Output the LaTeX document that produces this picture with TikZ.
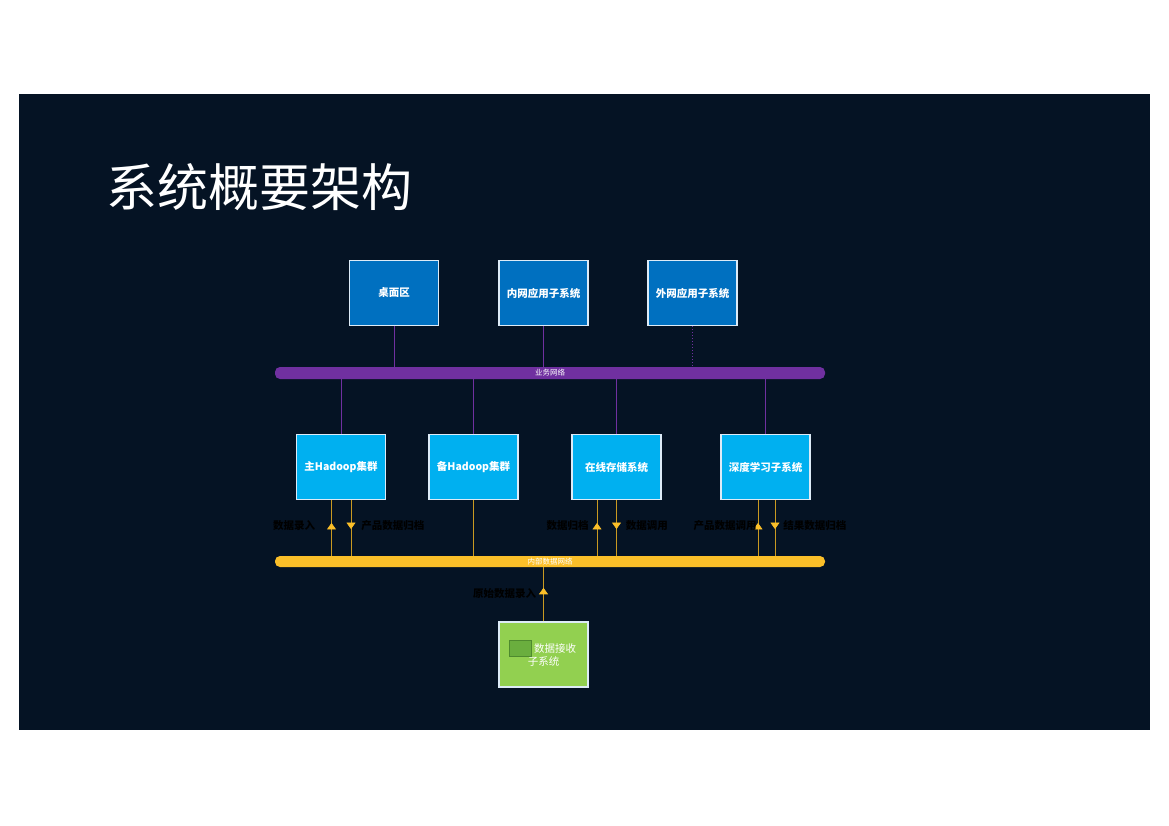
\documentclass[tikz,border=0pt]{standalone}
\usepackage{fontspec}
\setmainfont{Noto Sans CJK SC}
\usetikzlibrary{arrows.meta,decorations.markings,positioning}

\definecolor{night}{HTML}{051324}
\definecolor{topblue}{HTML}{0070C0}
\definecolor{midblue}{HTML}{00B0F0}
\definecolor{edgeblue}{HTML}{DDEBF7}
\definecolor{busviolet}{HTML}{7030A0}
\definecolor{busamber}{HTML}{FBBF29}
\definecolor{rxgreen}{HTML}{92D050}
\definecolor{icongreen}{HTML}{6AAE3E}
\definecolor{icondark}{HTML}{4E8A2E}

\begin{document}
\begin{tikzpicture}[x=1pt,y=-1pt,>={Triangle[width=9pt,length=6.5pt]}]
      \tikzset{
	  sysbox/.style={draw=edgeblue, line width=1.2pt, minimum width=89pt, minimum height=65pt, inner sep=1pt, text=white, font=\bfseries\fontsize{10.5}{12}\selectfont},
	  topbox/.style={sysbox, fill=topblue},
	  midbox/.style={sysbox, fill=midblue},
	  bus/.style={rounded corners=5pt, minimum width=550pt, inner sep=0pt, text=white, font=\fontsize{7.5}{8}\selectfont},
	  bizlink/.style={draw=busviolet, line width=1pt},
	  datalink/.style={draw=busamber!80!black, line width=0.7pt},
	  uplink/.style={datalink, postaction={decorate}, decoration={markings, mark=at position #1 with {\arrow[busamber]{>}}}},
	  uplink/.default=0.59,
	  downlink/.style={datalink, postaction={decorate}, decoration={markings, mark=at position 0.52 with {\arrow[busamber]{>}}}},
	  flowlabel/.style={text=black, inner sep=0pt, font=\bfseries\fontsize{10.5}{12}\selectfont}
      }

      %-----page and dark panel
      \useasboundingbox (0,0) rectangle (1169,826);
      \fill[white] (0,0) rectangle (1169,826);
      \fill[night] (19,94) rectangle (1150,730);

      \node (title) at (106,187) [anchor=west, inner sep=0pt, text=white, font=\fontsize{51}{55}\selectfont] {系统概要架构};

      %-----upper row
      \node (desk) at (394,293) [topbox] {桌面区};
      \node (intra) at (543.5,293) [topbox] {内网应用子系统};
      \node (extra) at (692.5,293) [topbox] {外网应用子系统};

      \node (biz) at (550,373) [bus, fill=busviolet, minimum height=12pt] {业务网络};

      %-----middle row
      \node (hmain) at (341,467) [midbox] {主Hadoop集群};
      \node (hback) at (473.5,467) [midbox] {备Hadoop集群};
      \node (store) at (616.5,467) [midbox] {在线存储系统};
      \node (deep) at (765.5,467) [midbox] {深度学习子系统};

      \node (inner) at (550,561.5) [bus, fill=busamber, minimum height=11pt] {内部数据网络};

      %-----receiver
      \node (rx) at (543.5,654.5) [draw=edgeblue, line width=1.2pt, fill=rxgreen, minimum width=89pt, minimum height=65pt] {};
      \node (rxtext) at (543.5,655) [align=center, inner sep=0pt, text=white, font=\fontsize{10.5}{13}\selectfont] {\hspace*{23pt}数据接收\\子系统};
      \node (icon) at (520,648) [draw=icondark, line width=0.8pt, fill=icongreen, minimum width=22pt, minimum height=16pt, inner sep=0pt] {};

      %-----business network links
      \draw[bizlink] (desk.south) -- (desk.south |- biz.north);
      \draw[bizlink] (intra.south) -- (intra.south |- biz.north);
      \draw[bizlink, dotted, line width=1.2pt] (extra.south) -- (extra.south |- biz.north);
      \foreach \n in {hmain,hback,store,deep}
	\draw[bizlink] (\n.north |- biz.south) -- (\n.north);

      %-----internal data network links
      \draw[uplink] ([xshift=-9.5pt]hmain.south |- inner.north) -- node[flowlabel, pos=0.54, left=16pt] {数据录入} ([xshift=-9.5pt]hmain.south);
      \draw[downlink] ([xshift=10pt]hmain.south) -- node[flowlabel, pos=0.46, right=10pt] {产品数据归档} ([xshift=10pt]hmain.south |- inner.north);
      \draw[datalink] (hback.south) -- (hback.south |- inner.north);
      \draw[uplink] ([xshift=-19.5pt]store.south |- inner.north) -- node[flowlabel, pos=0.54, left=8pt] {数据归档} ([xshift=-19.5pt]store.south);
      \draw[downlink] (store.south) -- node[flowlabel, pos=0.46, right=9pt] {数据调用} (store.south |- inner.north);
      \draw[uplink] ([xshift=-7.5pt]deep.south |- inner.north) -- node[flowlabel, pos=0.54, left=1pt] {产品数据调用} ([xshift=-7.5pt]deep.south);
      \draw[downlink] ([xshift=9.5pt]deep.south) -- node[flowlabel, pos=0.46, right=8pt] {结果数据归档} ([xshift=9.5pt]deep.south |- inner.north);
      \draw[uplink=0.62] (rx.north) -- node[flowlabel, pos=0.52, left=7pt] {原始数据录入} (rx.north |- inner.south);
\end{tikzpicture}
\end{document}
